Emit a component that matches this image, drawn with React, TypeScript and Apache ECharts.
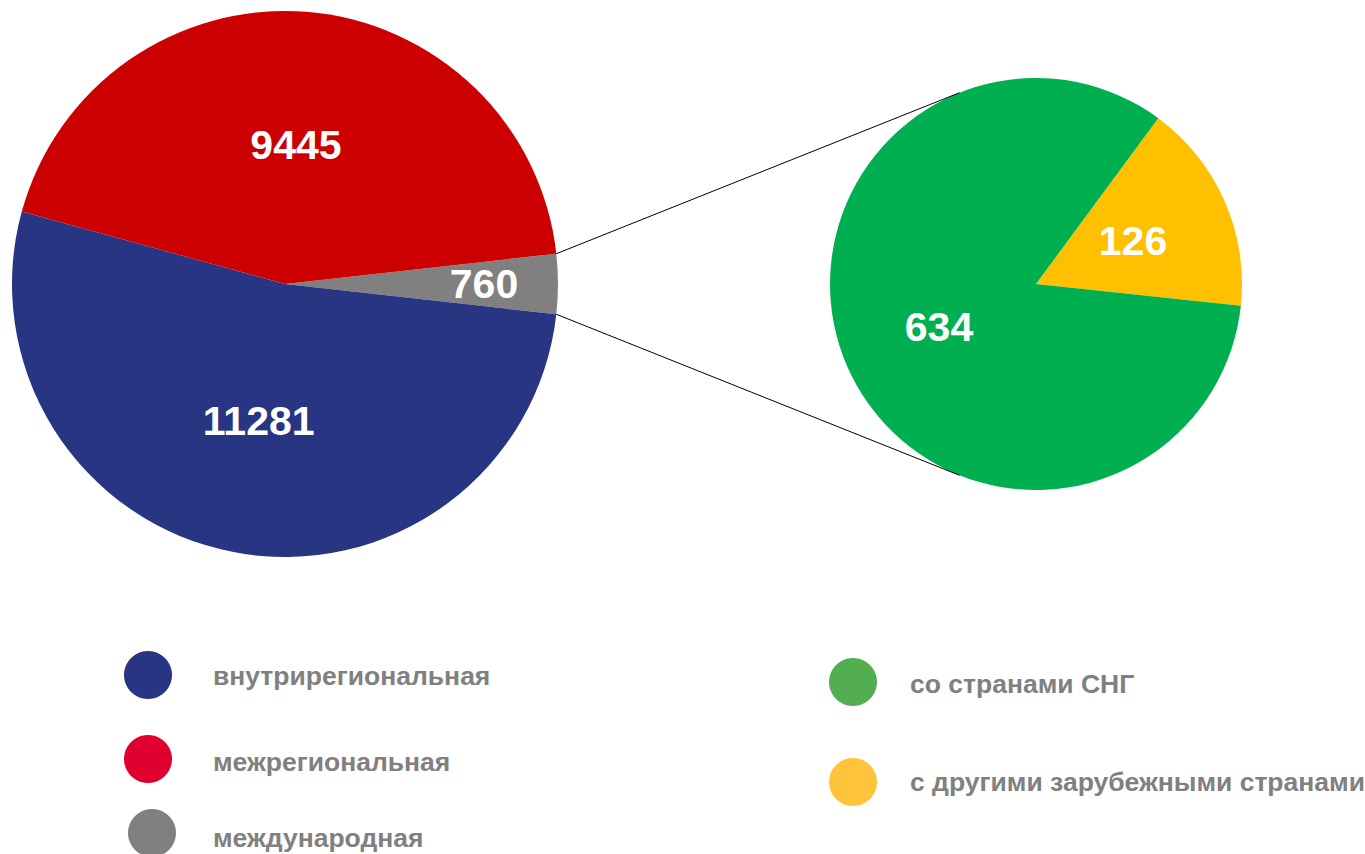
import React, { useEffect, useRef } from "react";
import * as echarts from "echarts";

const mainNames = ["международная", "внутрирегиональная", "межрегиональная"];
const mainValues = [760, 11281, 9445];
const mainColors = ["#808080", "#283583", "#CC0000"];

const subNames = ["с другими зарубежными странами", "со странами СНГ"];
const subValues = [126, 634];
const subColors = ["#FFC000", "#00B050"];

const legendColors: Record<string, string> = {
  "внутрирегиональная": "#283583",
  "межрегиональная": "#E0002F",
  "международная": "#808080",
  "со странами СНГ": "#52AE50",
  "с другими зарубежными странами": "#FFC33C",
};

const W = 1365;
const H = 854;
const C1 = [285, 284];
const R1 = 273;
const C2 = [1036, 284];
const R2 = 206;
const SUB_START = 53.6;

export default function App() {
  const ref = useRef<HTMLDivElement>(null);
  useEffect(() => {
    document.body.style.margin = "0";
    document.body.style.overflow = "hidden";
    const chart = echarts.init(ref.current!, undefined, { renderer: "svg" });

    const total = mainValues.reduce((a, b) => a + b, 0);
    const halfGray = (mainValues[0] / total) * 180; // degrees
    const mainStart = halfGray;

    // connector lines: from grey wedge corners, tangent to the right pie
    const lines: any[] = [];
    [1, -1].forEach((s) => {
      const a = (s * halfGray * Math.PI) / 180;
      const px = C1[0] + R1 * Math.cos(a);
      const py = C1[1] - R1 * Math.sin(a);
      const dx = px - C2[0];
      const dy = -(py - C2[1]);
      const d = Math.hypot(dx, dy);
      const phi = Math.atan2(dy, dx);
      const t = phi - s * Math.acos(R2 / d);
      const tx = C2[0] + R2 * Math.cos(t);
      const ty = C2[1] - R2 * Math.sin(t);
      lines.push({
        type: "line",
        z: 100,
        shape: { x1: px, y1: py, x2: tx, y2: ty },
        style: { stroke: "#000", lineWidth: 1 },
        silent: true,
      });
    });

    const labelStyle = {
      color: "#fff",
      fontSize: 41,
      fontWeight: "bold",
      fontFamily: "Liberation Sans, Arial, sans-serif",
    };

    const legendFont = {
      color: "#808080",
      fontSize: 26.5,
      fontWeight: "bold",
      fontFamily: "Liberation Sans, Arial, sans-serif",
    };

    const mkLegend = (
      name: string,
      cx: number,
      cy: number,
      iw: number,
      ih: number,
      dy: number
    ) => ({
      left: cx - ih / 2,
      top: cy - ih / 2,
      padding: 0,
      orient: "vertical",
      icon: "circle",
      itemWidth: iw,
      itemHeight: ih,
      selectedMode: false,
      data: [{ name, itemStyle: { color: legendColors[name] } }],
      formatter: "{t|{name}}",
      textStyle: {
        ...legendFont,
        rich: {
          t: { ...legendFont, padding: [dy * 2, 0, 0, 0] },
        },
      },
    });

    chart.setOption({
      animation: false,
      backgroundColor: "#fff",
      legend: [
        mkLegend("внутрирегиональная", 148, 675, 120, 48, 1),
        mkLegend("межрегиональная", 148, 759, 120, 48, 3),
        mkLegend("международная", 152, 833, 112, 48, 5),
        mkLegend("со странами СНГ", 853, 682, 104, 48, 2),
        mkLegend("с другими зарубежными странами", 853, 782, 104, 48, 0),
      ],
      series: [
        {
          type: "pie",
          center: C1,
          radius: [0, R1],
          startAngle: mainStart,
          clockwise: true,
          avoidLabelOverlap: false,
          label: { show: true, position: "inside", formatter: "{c}", ...labelStyle },
          labelLine: { show: false },
          emphasis: { disabled: true },
          itemStyle: { borderWidth: 0 },
          data: mainNames.map((n, i) => ({
            name: n,
            value: mainValues[i],
            itemStyle: { color: mainColors[i] },
            label: { show: i !== 0 },
          })),
        },
        {
          type: "pie",
          center: C1,
          radius: [119, R1],
          startAngle: mainStart,
          clockwise: true,
          silent: true,
          z: 3,
          avoidLabelOverlap: false,
          label: { show: true, position: "inside", formatter: "{c}", ...labelStyle },
          labelLine: { show: false },
          emphasis: { disabled: true },
          itemStyle: { color: "rgba(0,0,0,0)", borderWidth: 0 },
          data: mainNames.map((n, i) => ({
            name: n,
            value: mainValues[i],
            label: { show: i === 0 },
          })),
        },
        {
          type: "pie",
          center: C2,
          radius: [0, R2],
          startAngle: SUB_START,
          clockwise: true,
          avoidLabelOverlap: false,
          label: { show: true, position: "inside", formatter: "{c}", ...labelStyle },
          labelLine: { show: false },
          emphasis: { disabled: true },
          itemStyle: { borderWidth: 0 },
          data: subNames.map((n, i) => ({
            name: n,
            value: subValues[i],
            itemStyle: { color: subColors[i] },
          })),
        },
      ],
      graphic: lines,
    });
    return () => chart.dispose();
  }, []);
  return <div ref={ref} style={{ width: W, height: H }} />;
}
